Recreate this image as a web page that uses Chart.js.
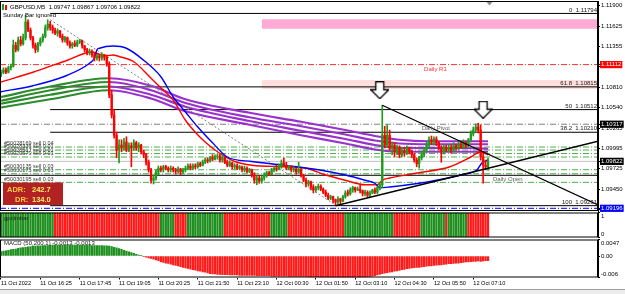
<!DOCTYPE html>
<html>
<head>
<meta charset="utf-8">
<script src="https://cdn.jsdelivr.net/npm/chart.js@4.4.1/dist/chart.umd.min.js"></script>
<style>
html, body { margin: 0; padding: 0; background: #fff; }
#wrap { position: relative; width: 625px; height: 294px; overflow: hidden; background: #fff; }
#wrap canvas { position: absolute; left: 0; }
#tabs { position: absolute; left: 0; top: 289px; width: 625px; height: 5px; background: #ececec; border-top: 1px solid #a0a0a0; }
</style>
</head>
<body>
<div id="wrap">
  <canvas id="cMain" width="625" height="212" style="top:0"></canvas>
  <canvas id="cSig" width="625" height="28" style="top:211px"></canvas>
  <canvas id="cMacd" width="625" height="56" style="top:238px"></canvas>
  <div id="tabs"></div>
</div>
<script>
/* ---------- GBPUSD M5 : data ---------- */

const opens = [
  1.1097, 1.1101, 1.1104, 1.1101, 1.1107, 1.1109, 1.1137, 1.1131, 1.1144, 1.1139,
  1.1147, 1.1168, 1.1157, 1.1147, 1.1137, 1.1131, 1.1139, 1.1144, 1.1149, 1.1160,
  1.1165, 1.1161, 1.1157, 1.1153, 1.1156, 1.1149, 1.1144, 1.1147, 1.1140, 1.1136,
  1.1139, 1.1137, 1.1141, 1.1143, 1.1136, 1.1131, 1.1127, 1.1129, 1.1124, 1.1120,
  1.1123, 1.1120, 1.1124, 1.1121, 1.1112, 1.1071, 1.1044, 1.1017, 1.0997, 1.1004,
  1.1000, 1.1008, 1.0997, 1.1003, 1.1000, 1.1007, 1.1000, 1.1004, 1.0995, 1.0991,
  1.0981, 1.0971, 1.0957, 1.0960, 1.0968, 1.0973, 1.0971, 1.0975, 1.0973, 1.0971,
  1.0973, 1.0971, 1.0969, 1.0972, 1.0968, 1.0971, 1.0973, 1.0976, 1.0973, 1.0976,
  1.0975, 1.0979, 1.0977, 1.0981, 1.0984, 1.0983, 1.0987, 1.0985, 1.0988, 1.0989,
  1.0984, 1.0987, 1.0981, 1.0977, 1.0980, 1.0975, 1.0976, 1.0973, 1.0975, 1.0971,
  1.0973, 1.0969, 1.0971, 1.0964, 1.0957, 1.0960, 1.0956, 1.0960, 1.0964, 1.0967,
  1.0965, 1.0971, 1.0973, 1.0972, 1.0976, 1.0980, 1.0977, 1.0973, 1.0975, 1.0971,
  1.0972, 1.0968, 1.0971, 1.0964, 1.0957, 1.0952, 1.0955, 1.0948, 1.0944, 1.0947,
  1.0949, 1.0945, 1.0941, 1.0937, 1.0933, 1.0935, 1.0931, 1.0928, 1.0932, 1.0929,
  1.0935, 1.0940, 1.0939, 1.0944, 1.0947, 1.0944, 1.0945, 1.0943, 1.0939, 1.0941,
  1.0937, 1.0940, 1.0944, 1.0941, 1.0947, 1.0951, 1.1017, 1.1004, 1.1017, 1.1000,
  1.1004, 1.0995, 1.1000, 1.0991, 1.0997, 1.0993, 1.0999, 1.0995, 1.0991, 1.0984,
  1.0979, 1.0987, 1.0991, 1.0997, 1.1004, 1.1011, 1.1008, 1.1012, 1.1007, 1.1000,
  1.0995, 1.1001, 1.0997, 1.1001, 1.0997, 1.1003, 1.1000, 1.1005, 1.1001, 1.1007,
  1.1003, 1.1011, 1.1019, 1.1024, 1.1028, 1.1024, 1.0988, 1.0977, 1.09747
];
const highs = [
  1.1104, 1.1107, 1.1107, 1.1109, 1.1112, 1.1144, 1.1141, 1.1148, 1.1149, 1.1152,
  1.1177, 1.1171, 1.1160, 1.1149, 1.1140, 1.1141, 1.1147, 1.1152, 1.1164, 1.1171,
  1.1169, 1.1164, 1.1160, 1.1159, 1.1157, 1.1152, 1.1149, 1.1148, 1.1143, 1.1141,
  1.1143, 1.1144, 1.1145, 1.1144, 1.1137, 1.1133, 1.1132, 1.1131, 1.1127, 1.1125,
  1.1124, 1.1127, 1.1125, 1.1124, 1.1115, 1.1077, 1.1051, 1.1021, 1.1011, 1.1011,
  1.1013, 1.1015, 1.1007, 1.1007, 1.1011, 1.1009, 1.1007, 1.1005, 1.0997, 1.0993,
  1.0984, 1.0973, 1.0964, 1.0971, 1.0976, 1.0976, 1.0977, 1.0977, 1.0975, 1.0976,
  1.0975, 1.0973, 1.0975, 1.0973, 1.0973, 1.0976, 1.0979, 1.0979, 1.0979, 1.0979,
  1.0981, 1.0981, 1.0984, 1.0987, 1.0987, 1.0989, 1.0991, 1.0991, 1.0992, 1.0992,
  1.0991, 1.0988, 1.0984, 1.0983, 1.0981, 1.0979, 1.0979, 1.0977, 1.0976, 1.0976,
  1.0975, 1.0973, 1.0972, 1.0967, 1.0963, 1.0963, 1.0963, 1.0967, 1.0969, 1.0969,
  1.0973, 1.0976, 1.0977, 1.0979, 1.0984, 1.0987, 1.0981, 1.0977, 1.0976, 1.0975,
  1.0973, 1.0981, 1.0973, 1.0965, 1.0960, 1.0957, 1.0956, 1.0951, 1.0949, 1.0952,
  1.0951, 1.0947, 1.0944, 1.0940, 1.0937, 1.0936, 1.0932, 1.0935, 1.0933, 1.0937,
  1.0943, 1.0944, 1.0947, 1.0949, 1.0948, 1.0948, 1.0952, 1.0944, 1.0944, 1.0943,
  1.0943, 1.0945, 1.0947, 1.0949, 1.0953, 1.1057, 1.1029, 1.1031, 1.1024, 1.1008,
  1.1007, 1.1004, 1.1003, 1.1001, 1.1001, 1.1003, 1.1001, 1.0997, 1.0993, 1.0987,
  1.0989, 1.0995, 1.1000, 1.1008, 1.1015, 1.1016, 1.1015, 1.1015, 1.1009, 1.1003,
  1.1004, 1.1004, 1.1005, 1.1004, 1.1007, 1.1005, 1.1009, 1.1008, 1.1011, 1.1009,
  1.1013, 1.1023, 1.1028, 1.1032, 1.1033, 1.1031, 1.0995, 1.0984, 1.09867
];
const lows = [
  1.1095, 1.1099, 1.1099, 1.1100, 1.1104, 1.1108, 1.1128, 1.1129, 1.1136, 1.1137,
  1.1144, 1.1155, 1.1144, 1.1133, 1.1127, 1.1128, 1.1136, 1.1141, 1.1147, 1.1157,
  1.1157, 1.1153, 1.1151, 1.1149, 1.1147, 1.1141, 1.1141, 1.1137, 1.1133, 1.1133,
  1.1135, 1.1135, 1.1139, 1.1133, 1.1128, 1.1124, 1.1124, 1.1121, 1.1116, 1.1117,
  1.1116, 1.1117, 1.1117, 1.1109, 1.1067, 1.1040, 1.1013, 1.0987, 1.0980, 1.0995,
  1.0997, 1.0995, 1.0995, 1.0975, 1.0997, 1.0997, 1.0995, 1.0992, 1.0987, 1.0977,
  1.0968, 1.0953, 1.0952, 1.0957, 1.0964, 1.0968, 1.0968, 1.0971, 1.0968, 1.0968,
  1.0968, 1.0965, 1.0967, 1.0964, 1.0965, 1.0968, 1.0971, 1.0971, 1.0971, 1.0972,
  1.0973, 1.0975, 1.0976, 1.0979, 1.0980, 1.0981, 1.0983, 1.0984, 1.0985, 1.0981,
  1.0981, 1.0979, 1.0975, 1.0975, 1.0972, 1.0972, 1.0971, 1.0971, 1.0968, 1.0968,
  1.0967, 1.0967, 1.0961, 1.0953, 1.0951, 1.0953, 1.0953, 1.0957, 1.0961, 1.0963,
  1.0964, 1.0968, 1.0969, 1.0971, 1.0973, 1.0975, 1.0971, 1.0971, 1.0968, 1.0968,
  1.0965, 1.0967, 1.0961, 1.0955, 1.0948, 1.0949, 1.0944, 1.0940, 1.0941, 1.0944,
  1.0943, 1.0939, 1.0935, 1.0931, 1.0931, 1.0927, 1.0924, 1.0925, 1.0925, 1.0928,
  1.0933, 1.0936, 1.0937, 1.0941, 1.0941, 1.0943, 1.0940, 1.0936, 1.0936, 1.0935,
  1.0935, 1.0939, 1.0939, 1.0939, 1.0944, 1.0947, 1.1000, 1.1001, 1.0997, 1.0991,
  1.0988, 1.0991, 1.0987, 1.0988, 1.0989, 1.0991, 1.0992, 1.0987, 1.0981, 1.0975,
  1.0973, 1.0984, 1.0988, 1.0995, 1.1001, 1.1005, 1.1004, 1.1003, 1.0997, 1.0981,
  1.0992, 1.0995, 1.0995, 1.0993, 1.0995, 1.0997, 1.0997, 1.0999, 1.1000, 1.1000,
  1.1001, 1.1008, 1.1016, 1.1021, 1.1020, 1.0984, 1.0953, 1.0971, 1.09706
];
const closes = [
  1.1101, 1.1104, 1.1101, 1.1107, 1.1109, 1.1137, 1.1131, 1.1144, 1.1139, 1.1147,
  1.1168, 1.1157, 1.1147, 1.1137, 1.1131, 1.1139, 1.1144, 1.1149, 1.1160, 1.1165,
  1.1161, 1.1157, 1.1153, 1.1156, 1.1149, 1.1144, 1.1147, 1.1140, 1.1136, 1.1139,
  1.1137, 1.1141, 1.1143, 1.1136, 1.1131, 1.1127, 1.1129, 1.1124, 1.1120, 1.1123,
  1.1120, 1.1124, 1.1121, 1.1112, 1.1071, 1.1044, 1.1017, 1.0997, 1.1004, 1.1000,
  1.1008, 1.0997, 1.1003, 1.1000, 1.1007, 1.1000, 1.1004, 1.0995, 1.0991, 1.0981,
  1.0971, 1.0957, 1.0960, 1.0968, 1.0973, 1.0971, 1.0975, 1.0973, 1.0971, 1.0973,
  1.0971, 1.0969, 1.0972, 1.0968, 1.0971, 1.0973, 1.0976, 1.0973, 1.0976, 1.0975,
  1.0979, 1.0977, 1.0981, 1.0984, 1.0983, 1.0987, 1.0985, 1.0988, 1.0989, 1.0984,
  1.0987, 1.0981, 1.0977, 1.0980, 1.0975, 1.0976, 1.0973, 1.0975, 1.0971, 1.0973,
  1.0969, 1.0971, 1.0964, 1.0957, 1.0960, 1.0956, 1.0960, 1.0964, 1.0967, 1.0965,
  1.0971, 1.0973, 1.0972, 1.0976, 1.0980, 1.0977, 1.0973, 1.0975, 1.0971, 1.0972,
  1.0968, 1.0971, 1.0964, 1.0957, 1.0952, 1.0955, 1.0948, 1.0944, 1.0947, 1.0949,
  1.0945, 1.0941, 1.0937, 1.0933, 1.0935, 1.0931, 1.0928, 1.0932, 1.0929, 1.0935,
  1.0940, 1.0939, 1.0944, 1.0947, 1.0944, 1.0945, 1.0943, 1.0939, 1.0941, 1.0937,
  1.0940, 1.0944, 1.0941, 1.0947, 1.0951, 1.1017, 1.1004, 1.1017, 1.1000, 1.1004,
  1.0995, 1.1000, 1.0991, 1.0997, 1.0993, 1.0999, 1.0995, 1.0991, 1.0984, 1.0979,
  1.0987, 1.0991, 1.0997, 1.1004, 1.1011, 1.1008, 1.1012, 1.1007, 1.1000, 1.0995,
  1.1001, 1.0997, 1.1001, 1.0997, 1.1003, 1.1000, 1.1005, 1.1001, 1.1007, 1.1003,
  1.1011, 1.1019, 1.1024, 1.1028, 1.1024, 1.0988, 1.0977, 1.0975, 1.09822
];

// moving averages, sampled at bar positions
const redMaBars = [0, 13, 27, 37, 40, 43, 45.5, 48, 54, 61, 66, 70, 75, 79, 83, 88, 95, 102, 115, 124, 132, 140, 148, 153, 155, 158, 170, 182.5, 191, 195, 198];
const redMa = [1.1088, 1.1101, 1.1117, 1.1128, 1.1125, 1.1123, 1.1124, 1.1122, 1.1115, 1.1093, 1.1077, 1.1064, 1.1037, 1.1021, 1.1008, 1.0995, 1.0982, 1.0977, 1.0975, 1.0973, 1.0964, 1.0957, 1.0951, 1.0951, 1.0957, 1.0960, 1.0967, 1.0975, 1.0988, 1.0995, 1.0991];
const blueMaBars = [0, 13, 27, 36, 38, 39, 40, 45.5, 51, 58, 65, 70, 75, 80, 86, 92, 102, 115, 129, 140, 148, 152, 154, 158, 170, 177, 187, 193.5, 195.5, 198];
const blueMa = [1.1075, 1.1083, 1.1097, 1.1113, 1.1120, 1.1131, 1.1133, 1.1136, 1.1133, 1.1117, 1.1095, 1.1068, 1.1048, 1.1028, 1.1007, 1.0988, 1.0982, 1.0977, 1.0971, 1.0964, 1.0957, 1.0953, 1.0947, 1.0948, 1.0953, 1.0957, 1.0964, 1.0971, 1.0980, 1.0984];

// four-line band (green while rising, purple while falling)
const bandBars = [0, 20, 44, 61, 75, 101, 122, 140, 152, 162, 174, 187, 198];
const band1 = [1.1068, 1.1082, 1.1093, 1.1083, 1.1065, 1.1047, 1.1035, 1.1024, 1.1016, 1.1011, 1.1009, 1.1009, 1.1009];
const band2 = [1.1063, 1.1077, 1.1088, 1.1077, 1.1060, 1.1041, 1.1029, 1.1018, 1.1010, 1.1006, 1.1005, 1.1005, 1.1005];
const band3 = [1.1059, 1.1071, 1.1082, 1.1071, 1.1055, 1.1036, 1.1023, 1.1012, 1.1004, 1.1000, 1.1000, 1.1000, 1.0999];
const band4 = [1.1054, 1.1065, 1.1077, 1.1066, 1.1049, 1.1031, 1.1017, 1.1006, 1.0998, 1.0995, 1.0995, 1.0995, 1.0995];
const bandTurnBar = 44;

// MACD (50,200,1) histogram
const macd = [
  0.0013, 0.0014, 0.0015, 0.0016, 0.0018, 0.0019, 0.0020, 0.0022, 0.0023, 0.0024,
  0.0025, 0.0026, 0.0027, 0.0028, 0.0028, 0.0029, 0.0029, 0.0030, 0.0030, 0.0030,
  0.0031, 0.0031, 0.0031, 0.0031, 0.0031, 0.0031, 0.0031, 0.0031, 0.0031, 0.0031,
  0.0031, 0.0031, 0.0031, 0.0031, 0.0031, 0.0031, 0.0031, 0.0030, 0.0030, 0.0030,
  0.0030, 0.0030, 0.0029, 0.0029, 0.0028, 0.0027, 0.0025, 0.0023, 0.0021, 0.0019,
  0.0016, 0.0014, 0.0012, 0.0010, 0.0008, 0.0005, 0.0003, 0.0001, -0.0001, -0.0003,
  -0.0005, -0.0007, -0.0009, -0.0011, -0.0013, -0.0016, -0.0018, -0.0020, -0.0021, -0.0023,
  -0.0025, -0.0027, -0.0028, -0.0030, -0.0032, -0.0034, -0.0035, -0.0037, -0.0039, -0.0040,
  -0.0042, -0.0043, -0.0045, -0.0046, -0.0048, -0.0050, -0.0051, -0.0051, -0.0052, -0.0052,
  -0.0053, -0.0053, -0.0053, -0.0054, -0.0054, -0.0054, -0.0054, -0.0055, -0.0055, -0.0055,
  -0.0055, -0.0055, -0.0055, -0.0055, -0.0056, -0.0056, -0.0056, -0.0056, -0.0056, -0.0056,
  -0.0057, -0.0057, -0.0057, -0.0057, -0.0057, -0.0057, -0.0057, -0.0058, -0.0058, -0.0058,
  -0.0058, -0.0058, -0.0058, -0.0058, -0.0058, -0.0059, -0.0059, -0.0059, -0.0059, -0.0059,
  -0.0060, -0.0060, -0.0060, -0.0060, -0.0060, -0.0060, -0.0061, -0.0061, -0.0061, -0.0061,
  -0.0061, -0.0061, -0.0061, -0.0061, -0.0061, -0.0060, -0.0060, -0.0060, -0.0059, -0.0059,
  -0.0058, -0.0057, -0.0056, -0.0054, -0.0052, -0.0050, -0.0049, -0.0047, -0.0046, -0.0045,
  -0.0043, -0.0042, -0.0041, -0.0039, -0.0038, -0.0036, -0.0035, -0.0034, -0.0033, -0.0032,
  -0.0032, -0.0031, -0.0030, -0.0029, -0.0028, -0.0028, -0.0027, -0.0026, -0.0025, -0.0025,
  -0.0024, -0.0023, -0.0022, -0.0022, -0.0021, -0.0020, -0.0020, -0.0019, -0.0018, -0.0017,
  -0.0017, -0.0016, -0.0015, -0.0015, -0.0014, -0.0015, -0.0014, -0.0013, -0.0013
];

// signal bar indicator: runs of bars, 1 = green, 0 = red
const sigRunStart = [0, 22, 65, 71, 76, 91, 110, 117, 140, 160, 171, 181, 182, 190];
const sigRunUp = [1, 0, 1, 0, 1, 0, 1, 0, 1, 0, 1, 0, 1, 0];

// time axis
const timeLabelBars = [0, 16, 32, 48, 64, 80, 96, 112, 128, 144, 160, 176, 192];
const timeLabels = ['11 Oct 2022', '11 Oct 16:25', '11 Oct 17:45', '11 Oct 19:05', '11 Oct 20:25', '11 Oct 21:50',
  '11 Oct 23:10', '12 Oct 00:30', '12 Oct 01:50', '12 Oct 03:10', '12 Oct 04:30', '12 Oct 05:50', '12 Oct 07:10'];

// price axis
const priceTicks = [1.119, 1.11625, 1.11355, 1.11085, 1.1081, 1.1054, 1.10265, 1.09995, 1.09725, 1.0945, 1.0918];
const priceMarks = [1.11112, 1.10317, 1.09822, 1.09196];
const macdTicks = [0.0047, 0, -0.0061];

// drawn objects
const fibNames = ['0', '61.8', '50', '38.2', '100'];
const fibPrices = [1.11794, 1.10815, 1.10512, 1.10210, 1.09231];
const fibStartBar = 20;
const pivotNames = ['Daily R1', 'Daily Pivot', 'Daily Open'];
const pivotPrices = [1.11112, 1.10317, 1.09636];
const pivotLabelBars = [172, 171, 200];
const bidPrice = 1.09822;
const blueLevel = 1.09196;
const orderNames = ['#50028169 sell 0.04', '#50028336 sell 0.01', '#50028517 sell 0.01', '#50029570 sell 0.01',
  '#50030135 sell 0.03', '#50030175 sell 0.03', '#50030195 sell 0.03'];
const orderPrices = [1.10013, 1.09973, 1.09926, 1.09880, 1.09710, 1.09657, 1.09542];
const zoneTop = [1.11716, 1.10906];
const zoneBottom = [1.11590, 1.10786];
const zoneStartBar = 106;
const zigBars = [20, 136];
const zigPrices = [1.1171, 1.0924];
const trendDownBars = [155, 242.7];
const trendDownPrices = [1.1057, 1.0924];
const trendUpBars = [136, 242.7];
const trendUpPrices = [1.0923, 1.1009];
const arrowBars = [154, 196];
const arrowPrices = [1.1077, 1.1051];

/* ---------- styling ---------- */
const FONT = '"Liberation Sans", Arial, sans-serif';
const UP = '#1f9c1f', DOWN = '#ff0000';
const X_MIN = -0.4, X_MAX = 242.7;
const DASHDOT = [6, 2, 1, 2];
const zoneColors = ['#ffaad4', '#ffdede'];
const markColors = ['#ff0000', '#000000', '#000000', '#0000ff'];
const pivotColors = ['#ff3030', '#606060', '#606060'];
const pivotLineColors = ['#ff3030', '#808080', '#000000'];
const pivotDash = [DASHDOT, DASHDOT, []];

const nBars = opens.length;
[highs, lows, closes, macd].forEach(a => { if (a.length !== nBars) throw new Error('bar array length ' + a.length); });

const pts = (xs, ys) => xs.map((x, i) => ({ x, y: ys[i] }));
const candleCol = closes.map((c, i) => c >= opens[i] ? UP : DOWN);
const sigUpAt = i => { let r = 0; while (r + 1 < sigRunStart.length && sigRunStart[r + 1] <= i) r++; return sigRunUp[r]; };

function hLine(price, from, color, dash, width, order) {
  return { type: 'line', data: [{ x: from, y: price }, { x: X_MAX, y: price }], borderColor: color,
    borderDash: dash, borderWidth: width, pointRadius: 0, fill: false, order };
}

function arrowIcon() {
  const c = document.createElement('canvas'); c.width = 19; c.height = 18;
  const g = c.getContext('2d');
  g.beginPath();
  g.moveTo(5.5, 0.5); g.lineTo(13.5, 0.5); g.lineTo(13.5, 8.5); g.lineTo(18.5, 8.5);
  g.lineTo(9.5, 17.5); g.lineTo(0.5, 8.5); g.lineTo(5.5, 8.5); g.closePath();
  g.fillStyle = '#fff'; g.fill(); g.lineWidth = 1.3; g.strokeStyle = '#000'; g.stroke();
  return c;
}

function xAxis(show) {
  return {
    type: 'linear', min: X_MIN, max: X_MAX, offset: false, display: show,
    afterFit: s => { if (show) s.height = 11; s.paddingLeft = 0; s.paddingRight = 0; },
    afterBuildTicks: s => { s.ticks = timeLabelBars.map(v => ({ value: v })); },
    grid: { display: true, drawOnChartArea: false, drawTicks: true, tickLength: 2, color: '#000', offset: false },
    border: { display: false },
    ticks: { autoSkip: false, maxRotation: 0, align: 'start', padding: 1, color: '#000',
      font: { family: FONT, size: 5.6 }, callback: v => timeLabels[timeLabelBars.indexOf(v)] }
  };
}

function yAxis(min, max, ticks, label, extra) {
  return Object.assign({
    position: 'right', min, max,
    afterFit: s => { s.width = 27; s.paddingTop = 0; s.paddingBottom = 0; },
    afterBuildTicks: s => { s.ticks = ticks.map(v => ({ value: v })); },
    grid: { drawOnChartArea: false, drawTicks: true, tickLength: 2, color: '#000' },
    border: { display: true, color: '#000' },
    ticks: { autoSkip: false, padding: 1, color: '#000', font: { family: FONT, size: 6 }, callback: label }
  }, extra || {});
}

const frame = {
  id: 'frame',
  afterDraw(chart) {
    const { ctx, chartArea: a } = chart;
    ctx.save();
    ctx.strokeStyle = '#000'; ctx.lineWidth = 1;
    ctx.strokeRect(a.left + 0.5, a.top + 0.5, a.width - 1, a.height - 1);
    ctx.restore();
  }
};

const base = {
  responsive: false, animation: false, devicePixelRatio: 1, events: [],
  plugins: { legend: { display: false }, tooltip: { enabled: false } }
};

/* ---------- main price window ---------- */
const mainSets = [];
zoneTop.forEach((t, k) => mainSets.push({
  type: 'line', data: [{ x: zoneStartBar, y: t }, { x: X_MAX, y: t }], borderWidth: 0, pointRadius: 0,
  fill: { value: zoneBottom[k] }, backgroundColor: zoneColors[k], order: 100
}));
fibPrices.forEach(p => mainSets.push(hLine(p, fibStartBar, '#000', [], 1, 90)));
pivotPrices.forEach((p, k) => mainSets.push(hLine(p, X_MIN, pivotLineColors[k], pivotDash[k], 1, 90)));
orderPrices.forEach(p => mainSets.push(hLine(p, X_MIN, '#4cae4c', DASHDOT, 1, 90)));
mainSets.push(hLine(bidPrice, X_MIN, '#c0c0c0', [], 1, 91));
mainSets.push(hLine(blueLevel, X_MIN, '#0000ff', DASHDOT, 1, 90));
[band1, band2, band3, band4].forEach(b => mainSets.push({
  type: 'line', data: pts(bandBars, b), borderWidth: 2.2, pointRadius: 0, cubicInterpolationMode: 'monotone',
  borderColor: '#9932cc', segment: { borderColor: c => c.p0.parsed.x < bandTurnBar ? '#2e8b2e' : '#9932cc' }, order: 80
}));
mainSets.push({ type: 'line', data: pts(zigBars, zigPrices), borderColor: '#808080', borderDash: [2, 2],
  borderWidth: 1, pointRadius: 0, order: 75 });
mainSets.push({ type: 'line', data: pts(blueMaBars, blueMa), borderColor: '#0000ff', borderWidth: 1.4,
  pointRadius: 0, cubicInterpolationMode: 'monotone', order: 70 });
mainSets.push({ type: 'line', data: pts(redMaBars, redMa), borderColor: '#ff0000', borderWidth: 1.4,
  pointRadius: 0, cubicInterpolationMode: 'monotone', order: 70 });
mainSets.push({ type: 'bar', data: opens.map((o, i) => ({ x: i, y: [lows[i], highs[i]] })), backgroundColor: candleCol,
  barThickness: 1, grouped: false, borderWidth: 0, order: 61 });
mainSets.push({ type: 'bar', data: opens.map((o, i) => ({ x: i, y: [o, closes[i]] })), backgroundColor: candleCol,
  barThickness: 1.7, grouped: false, borderWidth: 0, minBarLength: 1, order: 60 });
mainSets.push({ type: 'line', data: pts(trendDownBars, trendDownPrices), borderColor: '#000', borderWidth: 1.3, pointRadius: 0, order: 50 });
mainSets.push({ type: 'line', data: pts(trendUpBars, trendUpPrices), borderColor: '#000', borderWidth: 1.3, pointRadius: 0, order: 50 });
const arrowImg = arrowIcon();
mainSets.push({ type: 'line', data: pts(arrowBars, arrowPrices), showLine: false, pointStyle: arrowImg,
  pointRadius: 6, order: 40 });

const mainText = {
  id: 'mainText',
  afterDatasetsDraw(chart) {
    const { ctx, scales: { x, y } } = chart;
    ctx.save();
    ctx.font = '6px ' + FONT; ctx.fillStyle = '#000'; ctx.textBaseline = 'middle'; ctx.textAlign = 'left';
    ctx.fillText('GBPUSD,M5  1.09747 1.09867 1.09706 1.09822', 10, 7);
    ctx.fillStyle = '#1f9c1f'; ctx.fillRect(2, 4, 2, 6);
    ctx.fillStyle = '#ff0000'; ctx.fillRect(5, 5, 2, 5);
    ctx.fillStyle = '#000';
    ctx.fillText('Sunday Bar ignored', 3, 15.5);
    // chart shift marker
    ctx.fillStyle = '#909090';
    ctx.beginPath(); ctx.moveTo(486.5, 2); ctx.lineTo(492.5, 2); ctx.lineTo(489.5, 5.5); ctx.closePath(); ctx.fill();
    // fibonacci labels
    ctx.fillStyle = '#202020'; ctx.textAlign = 'right'; ctx.textBaseline = 'bottom';
    fibPrices.forEach((p, k) => ctx.fillText(fibNames[k] + '  ' + p.toFixed(5), x.right - 1, y.getPixelForValue(p) - 0.5));
    // pivot labels
    ctx.textAlign = 'left'; ctx.textBaseline = 'top';
    pivotPrices.forEach((p, k) => {
      ctx.fillStyle = pivotColors[k];
      ctx.fillText(pivotNames[k], x.getPixelForValue(pivotLabelBars[k]), y.getPixelForValue(p) + 1.5);
    });
    // order labels
    ctx.font = '5.5px ' + FONT; ctx.fillStyle = '#383838'; ctx.textBaseline = 'bottom';
    orderPrices.forEach((p, k) => ctx.fillText(orderNames[k], 4, y.getPixelForValue(p) - 0.3));
    // ADR panel
    ctx.fillStyle = '#b22222'; ctx.fillRect(3, 182.5, 60, 22.5);
    ctx.font = 'bold 7.5px ' + FONT; ctx.textBaseline = 'middle';
    ctx.fillStyle = '#ffc840'; ctx.fillText('ADR:', 7, 190); ctx.fillText('DR:', 15, 199.5);
    ctx.fillStyle = '#ffee66'; ctx.fillText('242.7', 32, 190); ctx.fillText('134.0', 32, 199.5);
    ctx.restore();
  }
};

new Chart(document.getElementById('cMain'), {
  type: 'bar',
  data: { datasets: mainSets },
  options: Object.assign({}, base, {
    layout: { padding: { top: 1, bottom: 1, left: 0, right: 0 }, autoPadding: false },
    scales: {
      x: xAxis(false),
      y: yAxis(1.0916, 1.1196, priceTicks.concat(priceMarks), v => v.toFixed(5), {}),
    }
  }),
  plugins: [frame, mainText]
});
// style the marked price boxes on the main axis
(function () {
  const ch = Chart.getChart('cMain');
  const t = ch.options.scales.y.ticks;
  const markAt = ctx => ctx.tick ? priceMarks.indexOf(ctx.tick.value) : -1;
  t.showLabelBackdrop = ctx => markAt(ctx) >= 0;
  t.backdropColor = ctx => markAt(ctx) >= 0 ? markColors[markAt(ctx)] : 'rgba(0,0,0,0)';
  t.backdropPadding = { x: 1, y: 0 };
  t.color = ctx => markAt(ctx) >= 0 ? '#fff' : '#000';
  ch.update();
})();

/* ---------- signal bar window ---------- */
const sigText = {
  id: 'sigText',
  afterDatasetsDraw(chart) {
    const { ctx, chartArea: a } = chart;
    ctx.save();
    ctx.font = '6px ' + FONT; ctx.fillStyle = '#202020'; ctx.textBaseline = 'middle';
    ctx.fillText('gpcimbar', 4, a.top + 6);
    ctx.restore();
  }
};
new Chart(document.getElementById('cSig'), {
  type: 'bar',
  data: { datasets: [{
    data: opens.map((o, i) => ({ x: i, y: 1 })),
    backgroundColor: opens.map((o, i) => sigUpAt(i) ? '#1f8f1f' : '#ff1a1a'),
    barThickness: 1.6, borderWidth: 0
  }] },
  options: Object.assign({}, base, {
    layout: { padding: { top: 1.5, bottom: 1.5, left: 0, right: 0 }, autoPadding: false },
    scales: {
      x: xAxis(false),
      y: yAxis(0, 1, [1, 0], v => v === 1 ? ['', '1'] : ['0', ''])
    }
  }),
  plugins: [frame, sigText]
});

/* ---------- MACD window ---------- */
const macdText = {
  id: 'macdText',
  afterDatasetsDraw(chart) {
    const { ctx, chartArea: a } = chart;
    ctx.save();
    ctx.font = '6px ' + FONT; ctx.fillStyle = '#202020'; ctx.textBaseline = 'middle';
    ctx.fillText('MACD (50,200,1) -0.0013 -0.0013', 4, a.top + 4);
    ctx.restore();
  }
};
new Chart(document.getElementById('cMacd'), {
  type: 'bar',
  data: { datasets: [{
    data: macd.map((v, i) => ({ x: i, y: v })),
    backgroundColor: macd.map(v => v >= 0 ? '#1f8f1f' : '#ff1a1a'),
    barThickness: 1.6, borderWidth: 0
  }] },
  options: Object.assign({}, base, {
    layout: { padding: { top: 1.5, bottom: 5.5, left: 0, right: 0 }, autoPadding: false },
    scales: {
      x: xAxis(true),
      y: yAxis(-0.0061, 0.0047, macdTicks, v => v > 0 ? ['', '0.0047'] : v === 0 ? '0.00' : ['-0.006', ''])
    }
  }),
  plugins: [frame, macdText]
});
</script>
</body>
</html>
